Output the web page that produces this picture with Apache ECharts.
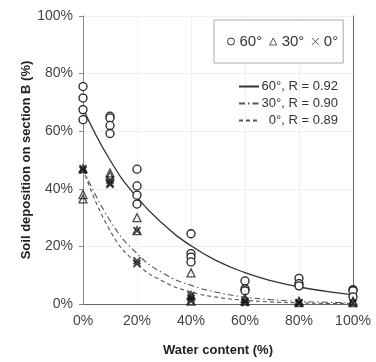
<!DOCTYPE html>
<html>
<head>
<meta charset="utf-8">
<script src="https://cdn.jsdelivr.net/npm/echarts@6/dist/echarts.min.js"></script>
<style>
  html, body { margin: 0; padding: 0; background: #fff; }
  #chart { width: 376px; height: 362px; }
</style>
</head>
<body>
<div id="chart"></div>
<script>
// measured points [water content %, deposition %]
const pts60 = [
  [0, 75.5], [0, 71.5], [0, 67.5], [0, 64],
  [10, 65.2], [10, 64.6], [10, 62], [10, 59.2],
  [20, 46.8], [20, 41], [20, 37.8], [20, 34.7],
  [40, 24.4], [40, 17.5], [40, 16.3], [40, 14.6],
  [60, 8], [60, 5.3], [60, 4.6],
  [80, 8.9], [80, 7.1], [80, 6.3],
  [100, 5], [100, 4.6], [100, 2.5]
]
const pts30 = [
  [0, 47], [0, 38], [0, 36.5],
  [10, 45.5], [10, 44.5],
  [20, 30], [20, 25.5],
  [40, 10.8], [40, 3], [40, 1],
  [60, 2], [60, 1],
  [80, 1], [80, 0.5],
  [100, 1], [100, 0.5]
]
const pts0 = [
  [0, 47], [0, 46.5],
  [10, 43], [10, 42], [10, 41.5],
  [20, 25.5], [20, 15], [20, 14],
  [40, 3], [40, 2], [40, 1],
  [60, 1], [60, 0.5],
  [80, 0.5], [80, 0.3],
  [100, 0.2]
]

// fitted curves
const fitX = [0, 10, 20, 30, 40, 50, 60, 70, 80, 90, 100]
const fit60 = [68, 50, 37, 27.5, 20.2, 14.8, 10.9, 8.0, 5.9, 4.4, 3.2]
const fit30 = [47, 29, 17.5, 10.5, 6.5, 4, 2.4, 1.5, 0.9, 0.6, 0.4]
const fit0 = [47, 25.5, 14, 7.7, 4.2, 2.3, 1.3, 0.7, 0.4, 0.2, 0.1]

const fitLabels = ['60°, R = 0.92', '30°, R = 0.90', '0°, R = 0.89']
const markLabels = ['60°', '30°', '0°']

const FONT = 'Liberation Sans, Arial, sans-serif'
const crossPath = 'path://M0,0L10,10M10,0L0,10'
const hollow = { color: '#fff', borderColor: '#333', borderWidth: 1 }

const chart = echarts.init(document.getElementById('chart'))

const pair = (xs, ys) => xs.map((x, i) => [x, ys[i]])

chart.setOption({
  animation: false,
  textStyle: { fontFamily: FONT },
  grid: { left: 83, right: 23, top: 16, bottom: 58 },
  legend: [
    {
      data: [
        { name: markLabels[0], icon: 'circle', itemStyle: hollow },
        { name: markLabels[1], icon: 'triangle', itemStyle: hollow },
        { name: markLabels[2], icon: crossPath, itemStyle: { color: 'rgba(0,0,0,0)', borderColor: '#333', borderWidth: 1 } }
      ],
      left: 214, top: 20,
      padding: [14, 5, 14, 13],
      itemGap: 7,
      itemWidth: 7, itemHeight: 7,
      borderColor: '#aaa', borderWidth: 1,
      backgroundColor: '#fff',
      textStyle: { fontSize: 15, color: '#333' }
    },
    {
      data: fitLabels,
      orient: 'vertical',
      left: 233, top: 75,
      itemGap: 4,
      itemWidth: 20, itemHeight: 14,
      itemStyle: { color: 'rgba(0,0,0,0)', borderWidth: 0 },
      formatter: name => `{t|${name}}`,
      textStyle: {
        fontSize: 13, color: '#333',
        rich: { t: { fontSize: 13, color: '#333', width: 74, align: 'right' } }
      }
    }
  ],
  xAxis: {
    type: 'value', min: 0, max: 100, interval: 20,
    axisLine: { lineStyle: { color: '#666' } },
    axisTick: { show: false },
    axisLabel: { formatter: '{value}%', color: '#444', fontSize: 14, margin: 10 },
    splitLine: { lineStyle: { color: '#e4e4e4', type: 'dotted' } },
    name: 'Water content (%)', nameLocation: 'middle', nameGap: 40, nameMoveOverlap: false,
    nameTextStyle: { fontSize: 13, fontWeight: 'bold', color: '#222' }
  },
  yAxis: [
    {
      type: 'value', min: 0, max: 100, interval: 20,
      axisLine: { show: true, lineStyle: { color: '#888' } },
      axisTick: { show: true, length: 4, lineStyle: { color: '#888' } },
      axisLabel: { formatter: '{value}%', color: '#444', fontSize: 14, margin: 10 },
      splitLine: { lineStyle: { color: '#e4e4e4', type: 'dotted' } },
      name: 'Soil deposition on section B (%)', nameLocation: 'middle', nameGap: 50, nameMoveOverlap: false,
      nameTextStyle: { fontSize: 13, fontWeight: 'bold', color: '#222' }
    },
    {
      type: 'value', min: 0, max: 100, position: 'right',
      axisLine: { show: true, lineStyle: { color: '#666' } },
      axisTick: { show: false }, axisLabel: { show: false }, splitLine: { show: false }
    }
  ],
  series: [
    {
      name: fitLabels[0], type: 'line', data: pair(fitX, fit60), smooth: true,
      showSymbol: false, symbol: 'none', z: 2,
      lineStyle: { color: '#333', width: 1.3, type: 'solid' },
      itemStyle: { color: '#333' }
    },
    {
      name: fitLabels[1], type: 'line', data: pair(fitX, fit30), smooth: true,
      showSymbol: false, symbol: 'none', z: 2,
      lineStyle: { color: '#555', width: 1.1, type: [6, 3, 1.5, 3] },
      itemStyle: { color: '#555' }
    },
    {
      name: fitLabels[2], type: 'line', data: pair(fitX, fit0), smooth: true,
      showSymbol: false, symbol: 'none', z: 2,
      lineStyle: { color: '#555', width: 1.1, type: [4, 3] },
      itemStyle: { color: '#555' }
    },
    {
      name: markLabels[0], type: 'scatter', data: pts60, symbol: 'circle', symbolSize: 8, z: 3,
      itemStyle: { color: '#fff', borderColor: '#222', borderWidth: 1.3, opacity: 1 }
    },
    {
      name: markLabels[1], type: 'scatter', data: pts30, symbol: 'triangle', symbolSize: 8, z: 4,
      itemStyle: { color: 'rgba(255,255,255,0)', borderColor: '#222', borderWidth: 1.3 }
    },
    {
      name: markLabels[2], type: 'scatter', data: pts0, symbol: crossPath, symbolSize: 7, z: 5,
      itemStyle: { color: 'rgba(255,255,255,0)', borderColor: '#111', borderWidth: 1.8 }
    }
  ]
})
</script>
</body>
</html>
